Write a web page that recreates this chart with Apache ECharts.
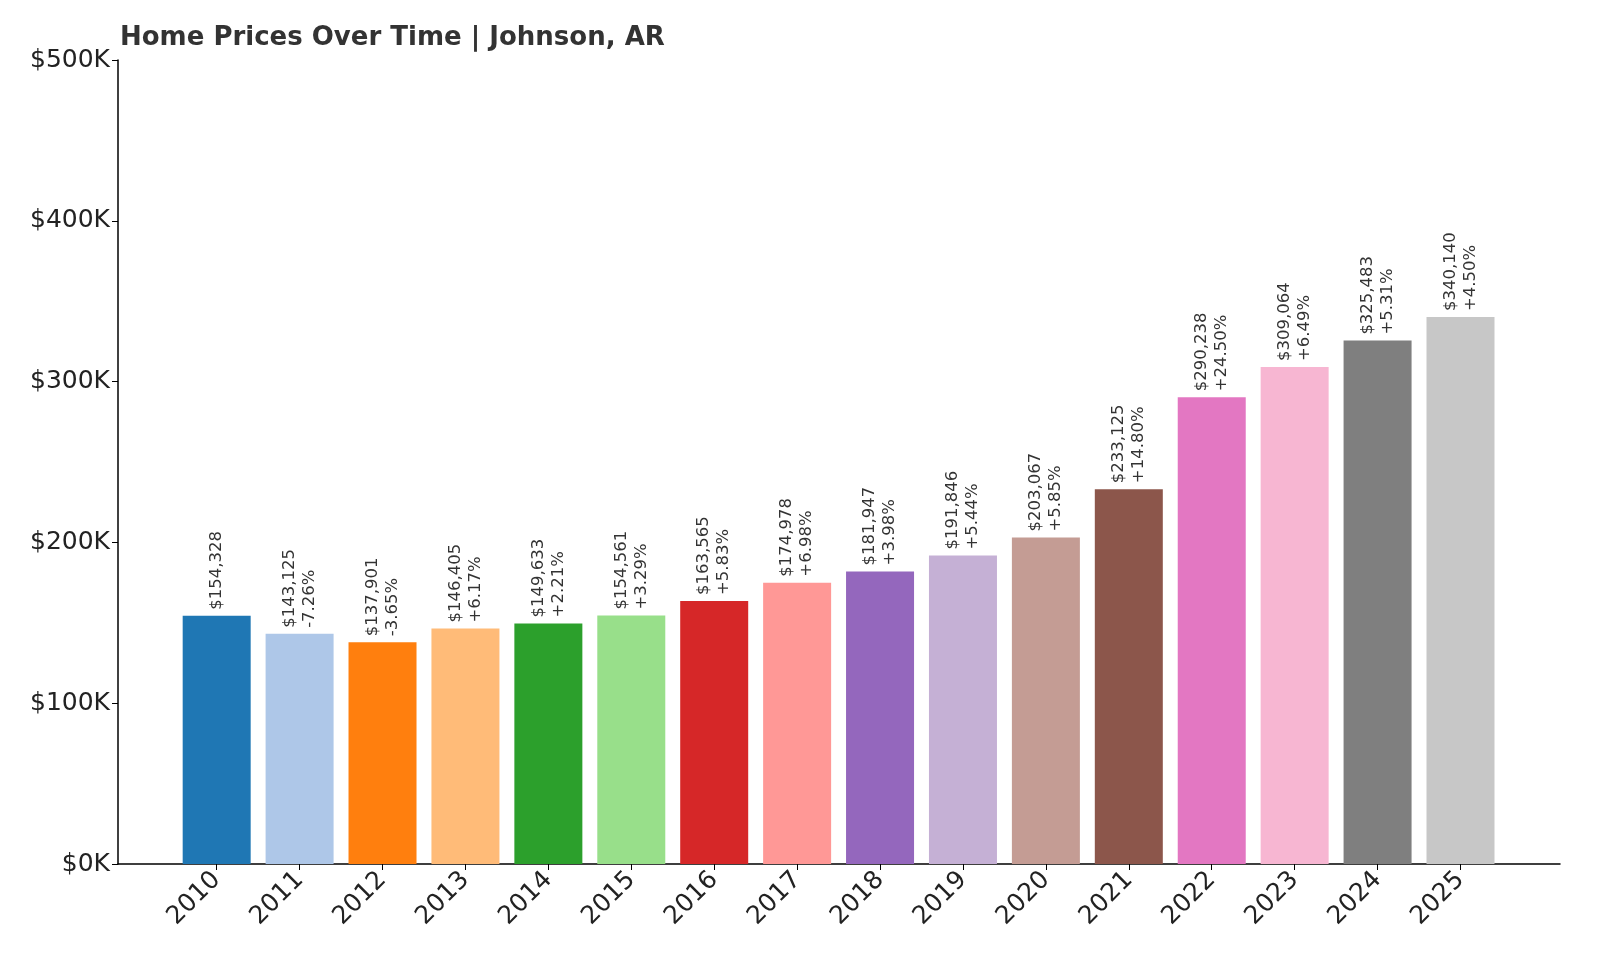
<!DOCTYPE html>
<html lang="en">
<head>
    <meta charset="UTF-8">
    <title>Home Prices Over Time</title>
    <script src="https://cdn.jsdelivr.net/npm/echarts@6/dist/echarts.min.js"></script>
</head>
<body style="margin:0">
<div id="main" style="width:1600px;height:960px;"></div>
<script type="text/javascript">
    var years = [2010, 2011, 2012, 2013, 2014, 2015, 2016, 2017, 2018, 2019, 2020, 2021, 2022, 2023, 2024, 2025];
    var prices = [154328, 143125, 137901, 146405, 149633, 154561, 163565, 174978, 181947, 191846, 203067, 233125, 290238, 309064, 325483, 340140];
    var changes = ['', '-7.26%', '-3.65%', '+6.17%', '+2.21%', '+3.29%', '+5.83%', '+6.98%', '+3.98%', '+5.44%', '+5.85%', '+14.80%', '+24.50%', '+6.49%', '+5.31%', '+4.50%'];
    var colors = ['#1f77b4', '#aec7e8', '#ff7f0e', '#ffbb78', '#2ca02c', '#98df8a', '#d62728', '#ff9896',
        '#9467bd', '#c5b0d5', '#c49c94', '#8c564b', '#e377c2', '#f7b6d2', '#7f7f7f', '#c7c7c7'];

    var myChart = echarts.init(document.getElementById('main'));
    var data = years.map(function (y, i) {
        return { value: [y, prices[i]], itemStyle: { color: colors[i] } };
    });
    var option = {
        animation: false,
        title: {
            text: 'Home Prices Over Time | Johnson, AR',
            left: 115, top: 20,
            textStyle: { fontSize: 26, fontWeight: 'bold', color: '#333', fontFamily: 'DejaVu Sans' }
        },
        grid: { left: 118, right: 40, top: 60, bottom: 96 },
        xAxis: {
            type: 'value',
            min: 2008.81, max: 2026.2,
            splitLine: { show: false },
            axisLine: { lineStyle: { color: '#000', width: 1.5 } },
            axisTick: { show: true, customValues: years, length: 6, lineStyle: { color: '#000' } },
            axisLabel: {
                customValues: years, rotate: 45, fontSize: 25, color: '#222',
                fontFamily: 'DejaVu Sans', margin: 12,
                formatter: function (v) { return String(v); }
            }
        },
        yAxis: {
            type: 'value',
            min: 0, max: 500000, interval: 100000,
            splitLine: { show: false },
            axisLine: { show: true, lineStyle: { color: '#000', width: 1.5 } },
            axisTick: { show: true, length: 6, lineStyle: { color: '#000' } },
            axisLabel: {
                fontSize: 25, color: '#222', fontFamily: 'DejaVu Sans',
                formatter: function (v) { return '$' + (v / 1000) + 'K'; }
            }
        },
        series: [{
            type: 'bar',
            barWidth: 68,
            data: data,
            label: {
                show: true,
                position: 'top',
                rotate: 90,
                align: 'left',
                verticalAlign: 'middle',
                distance: 6,
                fontSize: 16.5,
                lineHeight: 20,
                color: '#333',
                fontFamily: 'DejaVu Sans',
                formatter: function (p) {
                    var s = '$' + prices[p.dataIndex].toLocaleString('en-US');
                    return changes[p.dataIndex] ? s + '\n' + changes[p.dataIndex] : s;
                }
            }
        }]
    };
    myChart.setOption(option);
</script>
</body>
</html>
